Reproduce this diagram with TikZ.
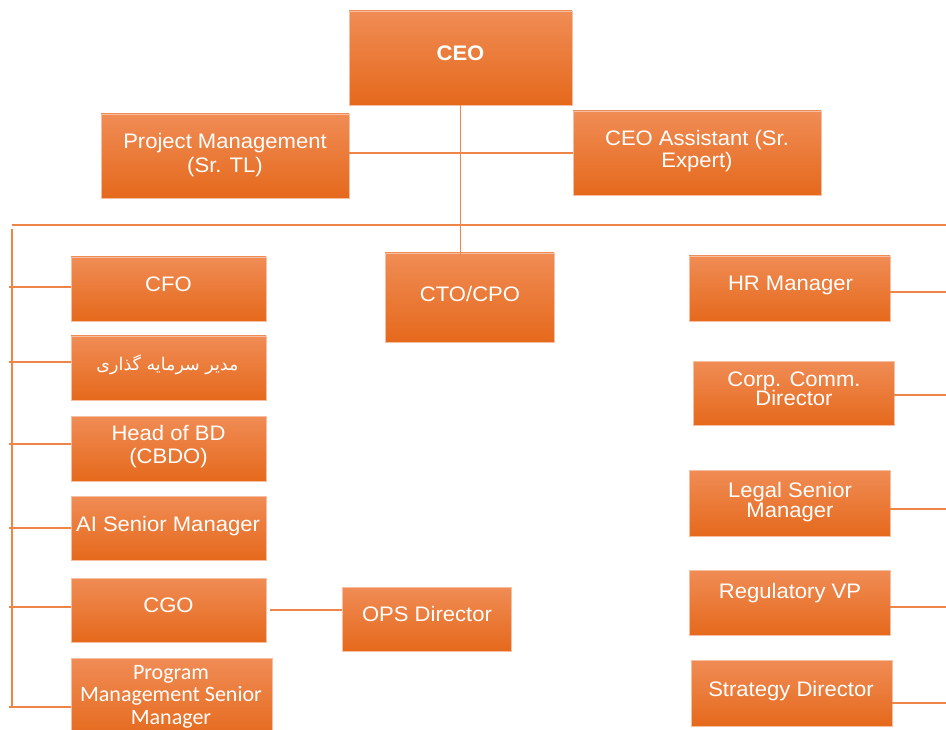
\documentclass[tikz,border=0pt]{standalone}
\usepackage{fontspec}
\setmainfont[FakeStretch=1.05]{Liberation Sans}
\newfontfamily\calfont{Carlito}
\newfontfamily\arabicfont[Script=Arabic]{DejaVu Sans}
\TeXXeTstate=1
\definecolor{otop}{RGB}{240,140,85}
\definecolor{omid}{RGB}{244,125,46}
\definecolor{obot}{RGB}{229,105,28}
\definecolor{oedge}{RGB}{246,190,160}
\definecolor{oline}{RGB}{238,132,72}
\tikzset{
  orgbox/.style={draw=oedge, line width=0.7pt, top color=otop, middle color=omid, bottom color=obot, inner sep=0pt},
  lbl/.style={text=white, inner sep=0pt, align=center, font=\fontsize{21}{24}\selectfont, text height=15pt, text depth=0pt},
  conn/.style={draw=oline, line width=1.3pt}
}
\begin{document}
\begin{tikzpicture}[x=1pt,y=-1pt]
\clip (0,0) rectangle (946,730);
\fill[white] (0,0) rectangle (946,730);
% boxes
\node[orgbox, minimum width=223, minimum height=94] (ceo) at (460.5,58) {};
\node[orgbox, minimum width=248, minimum height=84] (pm) at (225,156) {};
\node[orgbox, minimum width=248, minimum height=84] (ca) at (697,153) {};
\node[orgbox, minimum width=195, minimum height=64] (cfo) at (168.5,289) {};
\node[orgbox, minimum width=195, minimum height=64] (inv) at (168.5,368) {};
\node[orgbox, minimum width=195, minimum height=65] (bd) at (168.5,448.5) {};
\node[orgbox, minimum width=195, minimum height=64] (ai) at (168.5,528) {};
\node[orgbox, minimum width=195, minimum height=64] (cgo) at (168.5,610) {};
\node[orgbox, minimum width=201, minimum height=82] (pgm) at (171.5,699) {};
\node[orgbox, minimum width=169, minimum height=64] (ops) at (426.5,619) {};
\node[orgbox, minimum width=169, minimum height=89] (cto) at (469.5,297.5) {};
\node[orgbox, minimum width=201, minimum height=65] (hr) at (789.5,288.5) {};
\node[orgbox, minimum width=201, minimum height=64] (cc) at (793.5,393) {};
\node[orgbox, minimum width=201, minimum height=66] (lg) at (789.5,503) {};
\node[orgbox, minimum width=201, minimum height=65] (rg) at (789.5,602.5) {};
\node[orgbox, minimum width=201, minimum height=66] (sd) at (791.5,693) {};
% labels
\node[lbl, font=\fontsize{21}{24}\selectfont\bfseries] (ceot) at (460.5,53.5) {CEO};
\node[lbl, text height=39pt] (pmt) at (225,153) {Project Management\\(Sr. TL)};
\node[lbl, font=\fontsize{21}{22}\selectfont, text height=37pt] (cat) at (697,149) {CEO Assistant (Sr.\\Expert)};
\node[lbl] (cfot) at (168.5,284.5) {CFO};
\node[lbl, font=\fontsize{17.5}{20}\selectfont\arabicfont] (invt) at (167.5,363) {\beginR مدیر سرمایه گذاری\endR};
\node[lbl, font=\fontsize{21}{23}\selectfont, text height=38pt] (bdt) at (168.5,444.5) {Head of BD\\(CBDO)};
\node[lbl] (ait) at (168,523.5) {AI Senior Manager};
\node[lbl] (cgot) at (168.5,605) {CGO};
\node[lbl, font=\fontsize{22}{22.5}\selectfont\calfont, text height=60pt] (pgmt) at (171,694) {Program\\Management Senior\\Manager};
\node[lbl] (opst) at (427,613.5) {OPS Director};
\node[lbl] (ctot) at (470,294) {CTO/CPO};
\node[lbl] (hrt) at (790.5,283.5) {HR Manager};
\node[lbl, font=\fontsize{21}{20}\selectfont, text height=35pt] (cct) at (794,388.5) {Corp. Comm.\\Director};
\node[lbl, font=\fontsize{21}{20}\selectfont, text height=35pt] (lgt) at (790,499.5) {Legal Senior\\Manager};
\node[lbl] (rgt) at (790,590.5) {Regulatory VP};
\node[lbl] (sdt) at (791,689) {Strategy Director};
% coordinates
\coordinate (hA) at (0,153);
\coordinate (barL) at (12,225);
\coordinate (barR) at (946,225);
\coordinate (spT) at (12,229);
\coordinate (spB) at (12,707);
\coordinate (l1) at (9,287);
\coordinate (l2) at (9,362);
\coordinate (l3) at (9,444);
\coordinate (l4) at (9,528);
\coordinate (l5) at (9,607);
\coordinate (l6) at (9,707);
\coordinate (c1) at (270,610);
\coordinate (r1) at (946,292);
\coordinate (r2) at (946,395);
\coordinate (r3) at (946,509);
\coordinate (r4) at (946,607);
\coordinate (r5) at (946,703);
% connectors
\draw[conn] (ceo.south) -- ([yshift=-2pt]ceo.south |- cto.north);
\draw[conn] (pm.east |- hA) -- (ca.west |- hA);
\draw[conn] (barL) -- (barR);
\draw[conn] (spT) -- (spB);
\draw[conn] (l1) -- (cfo.west |- l1);
\draw[conn] (l2) -- (inv.west |- l2);
\draw[conn] (l3) -- (bd.west |- l3);
\draw[conn] (l4) -- (ai.west |- l4);
\draw[conn] (l5) -- (cgo.west |- l5);
\draw[conn] (l6) -- (pgm.west |- l6);
\draw[conn] (c1) -- (ops.west |- c1);
\draw[conn] (hr.east |- r1) -- (r1);
\draw[conn] (cc.east |- r2) -- (r2);
\draw[conn] (lg.east |- r3) -- (r3);
\draw[conn] (rg.east |- r4) -- (r4);
\draw[conn] (sd.east |- r5) -- (r5);
\end{tikzpicture}
\end{document}
